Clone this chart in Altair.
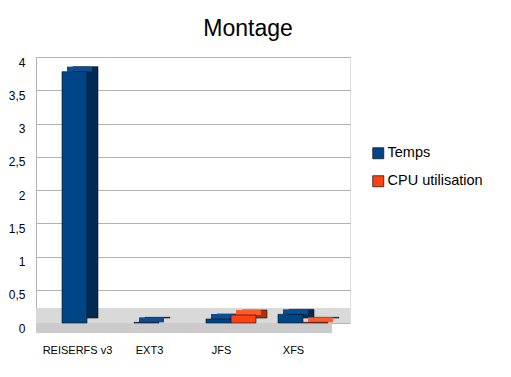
import altair as alt
import pandas as pd

# ---- data ----
categories = ["REISERFS v3", "EXT3", "JFS", "XFS"]
temps = [3.78, 0.01, 0.06, 0.13]
cpu = [0.0, 0.0, 0.12, 0.01]
series_names = ["Temps", "CPU utilisation"]
y_ticks = [0, 0.5, 1, 1.5, 2, 2.5, 3, 3.5, 4]

rows = []
for i, c in enumerate(categories):
    rows.append({"idx": i, "category": c, "series": series_names[0], "side": -1, "value": temps[i]})
    rows.append({"idx": i, "category": c, "series": series_names[1], "side": 1, "value": cpu[i]})
df = pd.DataFrame(rows)

FRONT = ["#004586", "#ff420e"]
SIDE = ["#002a52", "#b0300a"]
TOP = ["#0a4f94", "#ff5a2a"]
HALF = 0.347
XDOM = [-0.7083, 3.6528]
FONT = "Liberation Sans"

xs = alt.Scale(domain=XDOM, nice=False, zero=False)
ys = alt.Scale(domain=[0, 4], nice=False)

base = alt.Chart(df).transform_filter("datum.value > 0").transform_calculate(
    x0=f"datum.idx + (datum.side < 0 ? -{HALF} : 0)",
    x1=f"datum.idx + (datum.side < 0 ? 0 : {HALF})",
)


def x_axis():
    return alt.Axis(
        values=[0, 1, 2, 3],
        labelExpr="['REISERFS v3','EXT3','JFS','XFS'][datum.value]",
        ticks=False,
        domain=False,
        grid=False,
        labelPadding=21,
        labelOffset=-10,
        labelFontSize=11,
        labelFont=FONT,
        labelColor="#000000",
        title=None,
    )


def y_axis():
    return alt.Axis(
        values=y_ticks,
        labelExpr="replace(format(datum.value, '~g'), '.', ',')",
        ticks=False,
        domain=True,
        domainColor="#b3b3b3",
        grid=True,
        gridColor="#b3b3b3",
        gridWidth=1,
        labelPadding=11,
        labelOffset=5,
        labelFontSize=12,
        labelFont=FONT,
        labelColor="#000000",
        labelOverlap=False,
        title=None,
    )


# floor (decoration)
floor_top = alt.Chart(pd.DataFrame({"a": [0]})).mark_rect(color="#d9d9d9").encode(
    x=alt.X(datum=XDOM[0], scale=xs, type="quantitative", axis=x_axis()),
    x2=alt.X2(datum=XDOM[1]),
    y=alt.Y(datum=0, scale=ys, type="quantitative", axis=y_axis()),
    y2=alt.Y2(datum=0.2256),
)
floor_front = alt.Chart(pd.DataFrame({"a": [0]})).mark_rect(color="#cbcbcb").encode(
    x=alt.X(datum=XDOM[0], scale=xs, type="quantitative", axis=x_axis()),
    x2=alt.X2(datum=3.403),
    y=alt.Y(datum=0, scale=ys, type="quantitative", axis=y_axis()),
    y2=alt.Y2(datum=-0.150),
)

side = base.mark_rect(
    xOffset=11, x2Offset=11, yOffset=-5, y2Offset=-5,
    stroke="#0b0b1a", strokeWidth=0.6,
).encode(
    x=alt.X("x0:Q", scale=xs, axis=x_axis()),
    x2="x1:Q",
    y=alt.Y("value:Q", scale=ys, axis=y_axis()),
    y2=alt.Y2(datum=0),
    color=alt.Color("series:N", scale=alt.Scale(domain=series_names, range=SIDE), legend=None),
)

top = base.mark_rect(
    xOffset=5, x2Offset=5, yOffset=-5, y2Offset=0,
).encode(
    x=alt.X("x0:Q", scale=xs, axis=x_axis()),
    x2="x1:Q",
    y=alt.Y("value:Q", scale=ys, axis=y_axis()),
    y2="value:Q",
    color=alt.Color("series:N", scale=alt.Scale(domain=series_names, range=TOP), legend=None),
)

front = base.mark_rect(stroke="#0b0b1a", strokeWidth=0.6).encode(
    x=alt.X("x0:Q", scale=xs, axis=x_axis()),
    x2="x1:Q",
    y=alt.Y("value:Q", scale=ys, axis=y_axis()),
    y2=alt.Y2(datum=0),
    color=alt.Color(
        "series:N",
        scale=alt.Scale(domain=series_names, range=FRONT),
        title=None,
        legend=alt.Legend(
            orient="none",
            legendX=335,
            legendY=89,
            symbolType="square",
            symbolSize=121,
            symbolStrokeColor="#1a1a1a",
            symbolStrokeWidth=0.8,
            symbolOpacity=1,
            labelFontSize=14.5,
            labelFont=FONT,
            labelColor="#000000",
            rowPadding=12,
            labelOffset=2,
        ),
    ),
)

chart = alt.layer(floor_top, floor_front, side, top, front).resolve_scale(
    color="independent"
).properties(
    width=314,
    height=266,
    autosize=alt.AutoSizeParams(type="none"),
    padding={"left": 28, "top": 49, "right": 153, "bottom": 46},
    title=alt.TitleParams(
        "Montage",
        font=FONT,
        fontSize=23,
        fontWeight="normal",
        color="#000000",
        anchor="middle",
        frame="group",
        dx=55,
        dy=23,
        offset=20,
        baseline="alphabetic",
    ),
).configure_view(stroke="#b3b3b3", strokeWidth=1).configure(background="#ffffff")

chart.save("out.html", embed_options={"renderer": "svg", "actions": False})
